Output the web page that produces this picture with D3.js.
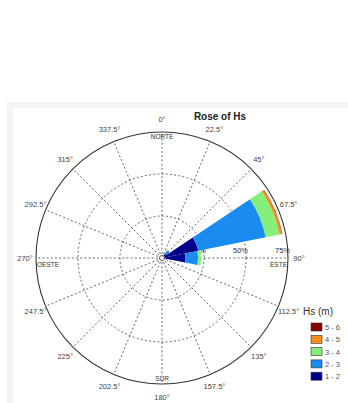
<!DOCTYPE html>
<html>
<head>
<meta charset="utf-8">
<script src="https://cdn.jsdelivr.net/npm/d3@7"></script>
<style>
  html, body { margin: 0; padding: 0; background: #fff; }
  svg { display: block; font-family: "Liberation Sans", Arial, sans-serif; }
</style>
</head>
<body>
<svg id="chart" width="348" height="403"></svg>
<script>
// Wave direction sectors (degrees, clockwise from north)
const directions = [0, 22.5, 45, 67.5, 90, 112.5, 135, 157.5, 180, 202.5, 225, 247.5, 270, 292.5, 315, 337.5];

// Significant wave height classes
const hsClasses = ["1 - 2", "2 - 3", "3 - 4", "4 - 5", "5 - 6"];
const hsColors  = ["#00008b", "#1a8cf0", "#86ee7a", "#ff8c1a", "#8b0000"];

// Frequency (%) of each class per direction sector
const hs1to2 = [0, 0.3, 3.0, 22.0, 14.0, 0.3, 0, 0, 0, 0, 0, 0, 0, 0, 0, 0];
const hs2to3 = [0, 0, 2.5, 41.0, 7.5, 0, 0, 0, 0, 0, 0, 0, 0, 0, 0, 0];
const hs3to4 = [0, 0, 0, 8.4, 1.8, 0, 0, 0, 0, 0, 0, 0, 0, 0, 0, 0];
const hs4to5 = [0, 0, 0, 1.5, 0, 0, 0, 0, 0, 0, 0, 0, 0, 0, 0, 0];
const hs5to6 = [0, 0, 0, 0.2, 0, 0, 0, 0, 0, 0, 0, 0, 0, 0, 0, 0];
const classValues = [hs1to2, hs2to3, hs3to4, hs4to5, hs5to6];

// Radial grid
const ringTicks = [25, 50, 75];
const ringLabels = ["25%", "50%", "75%"];
const cardinals = [
  { text: "NORTE", angle: 0 },
  { text: "ESTE", angle: 90 },
  { text: "SUR", angle: 180 },
  { text: "OESTE", angle: 270 }
];

const svg = d3.select("#chart");
const W = 348, H = 403;
const cx = 162, cy = 258;

// Figure frame
svg.append("rect").attr("x", 7).attr("y", 102).attr("width", W - 7).attr("height", H - 102).attr("fill", "#f4f4f4");
svg.append("rect").attr("x", 13).attr("y", 108).attr("width", W - 13).attr("height", H - 108).attr("fill", "#fff");

const r = d3.scaleLinear().domain([0, 75]).range([0, 126]);
const rad = d => d * Math.PI / 180;

const g = svg.append("g").attr("transform", `translate(${cx},${cy})`);

// Dashed rings
g.selectAll("circle.ring").data(ringTicks.slice(0, -1)).join("circle")
  .attr("class", "ring").attr("r", d => r(d))
  .attr("fill", "none").attr("stroke", "#555").attr("stroke-width", 0.9)
  .attr("stroke-dasharray", "2,2.2");

// Dashed spokes
g.selectAll("line.spoke").data(directions).join("line")
  .attr("class", "spoke")
  .attr("x1", 0).attr("y1", 0)
  .attr("x2", d => r(75) * Math.sin(rad(d)))
  .attr("y2", d => -r(75) * Math.cos(rad(d)))
  .attr("stroke", "#555").attr("stroke-width", 0.9)
  .attr("stroke-dasharray", "2,2.2");

// Ring percentage labels along the east axis
g.selectAll("text.ringlab").data(ringTicks).join("text")
  .attr("class", "ringlab")
  .attr("x", d => r(d) + 2).attr("y", -5)
  .attr("text-anchor", "end")
  .attr("font-size", 7.5).attr("fill", "#333")
  .text((d, i) => ringLabels[i]);

// Cardinal names just inside the outer circle
const cardPos = {
  0:   { x: 0, y: -r(75) + 7, anchor: "middle" },
  90:  { x: r(75) - 1, y: 9, anchor: "end" },
  180: { x: 0, y: r(75) - 3, anchor: "middle" },
  270: { x: -r(75) + 1, y: 9, anchor: "start" }
};
g.selectAll("text.card").data(cardinals).join("text")
  .attr("class", "card")
  .attr("x", d => cardPos[d.angle].x).attr("y", d => cardPos[d.angle].y)
  .attr("text-anchor", d => cardPos[d.angle].anchor)
  .attr("font-size", 6.5).attr("fill", "#333")
  .text(d => d.text);

// Stacked wedges
const half = 22.5 / 2;
const arc = d3.arc();
const wedges = [];
directions.forEach((dir, j) => {
  let base = 0;
  classValues.forEach((vals, k) => {
    const v = vals[j];
    if (v > 0) {
      wedges.push({ dir, k, inner: base, outer: base + v });
    }
    base += v;
  });
});
g.selectAll("path.wedge").data(wedges).join("path")
  .attr("class", "wedge")
  .attr("d", d => arc({
    innerRadius: r(d.inner), outerRadius: r(d.outer),
    startAngle: rad(d.dir - half), endAngle: rad(d.dir + half)
  }))
  .attr("fill", d => hsColors[d.k]);

// Outer circle
g.append("circle").attr("r", r(75)).attr("fill", "none").attr("stroke", "#333").attr("stroke-width", 1.1);
// Center marker
g.append("circle").attr("r", 2.5).attr("fill", "#fff").attr("stroke", "#555").attr("stroke-width", 1);

// Degree labels
g.selectAll("text.deg").data(directions).join("text")
  .attr("class", "deg")
  .attr("x", d => 137 * Math.sin(rad(d)))
  .attr("y", d => -139 * Math.cos(rad(d)) + 2.5)
  .attr("text-anchor", "middle")
  .attr("font-size", 7.5).attr("fill", "#444")
  .text(d => d + "°");

// Title
svg.append("text").attr("x", 220).attr("y", 120).attr("text-anchor", "middle")
  .attr("font-size", 10).attr("font-weight", "bold").attr("fill", "#222")
  .text("Rose of Hs");

// Legend
const lg = svg.append("g").attr("transform", "translate(303,0)");
lg.append("text").attr("x", 0).attr("y", 315).attr("font-size", 10).attr("fill", "#333").text("Hs (m)");
const order = d3.range(hsClasses.length).reverse();
lg.selectAll("rect.sw").data(order).join("rect")
  .attr("class", "sw")
  .attr("x", 8).attr("y", (d, i) => 323 + i * 12.3)
  .attr("width", 11).attr("height", 8)
  .attr("fill", d => hsColors[d]).attr("stroke", "#333").attr("stroke-width", 0.6);
lg.selectAll("text.sl").data(order).join("text")
  .attr("class", "sl")
  .attr("x", 22).attr("y", (d, i) => 330 + i * 12.3)
  .attr("font-size", 7.5).attr("fill", "#555")
  .text(d => hsClasses[d]);
</script>
</body>
</html>
